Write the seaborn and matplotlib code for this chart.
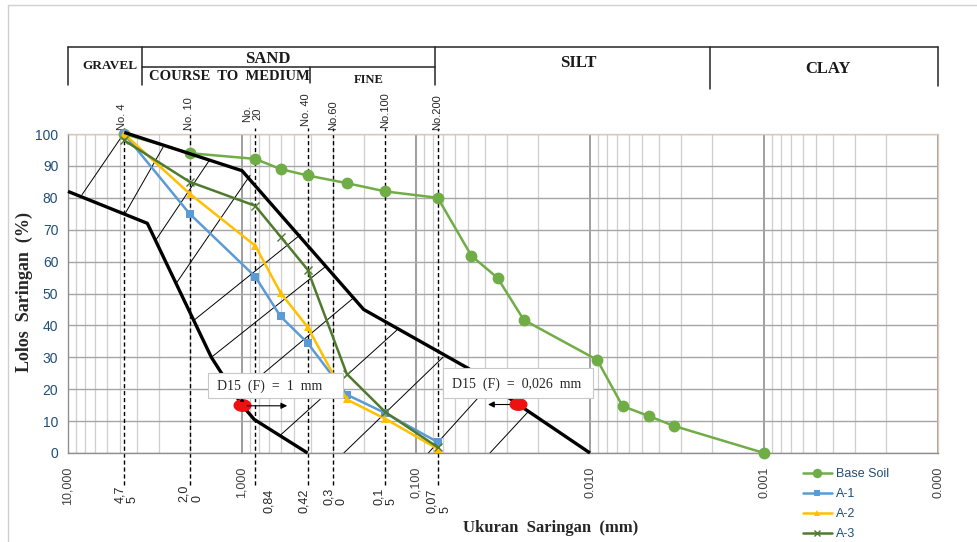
import matplotlib

matplotlib.use("Agg")

import matplotlib.pyplot as plt
import numpy as np
import pandas as pd
import seaborn as sns
from matplotlib.lines import Line2D
from matplotlib.patches import Rectangle
from matplotlib.path import Path
from matplotlib.ticker import FixedLocator, LogLocator, NullFormatter

W, H = 977, 542

# grain size curves (sieve size in mm, percent passing)
SIZES_BASE = [4.75, 2.0, 0.84, 0.6, 0.42, 0.25, 0.15, 0.075, 0.048, 0.034, 0.024, 0.0091, 0.0065, 0.0046, 0.0033, 0.001]
PASS_BASE = [100, 94, 92.2, 89, 87, 84.6, 82, 80, 61.8, 54.9, 41.7, 29.2, 14.7, 11.6, 8.5, 0]
SIZES_A = [4.75, 2.0, 0.84, 0.6, 0.42, 0.25, 0.15, 0.075]
PASS_A1 = [100, 75, 55.3, 42.8, 34.5, 18.3, 12.5, 3.4]
PASS_A2 = [100, 81.3, 65, 50.2, 39.5, 16.8, 10.7, 1.3]
PASS_A3 = [98, 85, 77.5, 67.8, 57.5, 24.8, 12.8, 1.8]

# filter envelope
LEFT_SIZES = [10, 3.5, 1.5, 1.0, 0.85, 0.42]
LEFT_PASS = [82, 72, 30, 15, 10.5, 0]
RIGHT_SIZES = [4.75, 1.0, 0.2, 0.05, 0.026, 0.01]
RIGHT_PASS = [100.5, 88.5, 45, 26.5, 15.3, 0]

# hatch lines inside envelope
HATCH_START_SIZE = [8.3, 4.7, 3.15, 2.4, 1.9, 1.5, 1.07, 0.61, 0.26, 0.085, 0.0376]
HATCH_START_PASS = [81, 75, 66.5, 53, 41.5, 30, 18, 5.3, 0, 0, 0]
HATCH_END_SIZE = [4.8, 2.8, 1.53, 0.9, 0.46, 0.33, 0.23, 0.129, 0.070, 0.0386, 0.0227]
HATCH_END_PASS = [100, 96.5, 92, 87, 68.5, 58.5, 48.5, 38.5, 30, 20.7, 12.9]

D15_SIZES = [1.0, 0.026]
D15_PASS = [15, 15.3]
D15_TEXT = ["D15  (F)  =  1  mm", "D15  (F)  =  0,026  mm"]

SIEVE_SIZES = [4.75, 2.0, 0.84, 0.42, 0.30, 0.15, 0.075]
SIEVE_NAMES = ["No. 4", "No. 10", "No.\n20", "No. 40", "No.60", "No.100", "No.200"]
SIEVE_TEXT = ["4,7\n5", "2,0\n0", "0,84", "0,42", "0,3\n0", "0,1\n5", "0,07\n5"]

DECADES = [10, 1, 0.1, 0.01, 0.001, 0.0001]
DECADE_TEXT = ["10,000", "1,000", "0,100", "0.010", "0.001", "0.000"]

GREEN = "#70AD47"
BLUE = "#5B9BD5"
GOLD = "#FFC000"
DKGREEN = "#4F7A2E"
TICKBLUE = "#1F4E79"
SERIF = "Liberation Serif"
SANS = "Liberation Sans"


def fx(px):
    return px / W


def fy(py):
    return 1 - py / H


def fig_line(fig, xs, ys, **kw):
    fig.add_artist(Line2D([fx(x) for x in xs], [fy(y) for y in ys], transform=fig.transFigure, **kw))


sns.set_theme(style="white")
plt.rcParams["font.family"] = SANS

fig = plt.figure(figsize=(W / 100, H / 100), dpi=100)
ax = fig.add_axes([fx(68), fy(453), (938 - 68) / W, (453 - 134) / H])
ax.set_xscale("log")
ax.set_xlim(10, 0.0001)
ax.set_ylim(0, 100)

# grid
ax.xaxis.set_major_locator(FixedLocator(DECADES))
ax.xaxis.set_minor_locator(LogLocator(base=10, subs=np.arange(2, 10)))
ax.xaxis.set_minor_formatter(NullFormatter())
ax.set_yticks(np.arange(0, 101, 10))
ax.grid(which="major", axis="y", color="#A6A6A6", lw=1.0)
ax.grid(which="major", axis="x", color="#8F8F8F", lw=1.2)
ax.grid(which="minor", axis="x", color="#CFCFCF", lw=0.9)
ax.set_axisbelow(True)
ax.set_xticklabels(DECADE_TEXT, rotation=90, fontsize=9, color="#404040")
ax.tick_params(axis="x", which="major", length=4, color="#8F8F8F", pad=6, direction="out")
ax.tick_params(axis="x", which="minor", length=0)
ax.tick_params(axis="y", length=0, pad=7, labelsize=10, labelcolor=TICKBLUE)
for side, col in [("left", "#8F8F8F"), ("bottom", "#8F8F8F"), ("top", "#DCC8BA"), ("right", "#DCC8BA")]:
    ax.spines[side].set_color(col)
    ax.spines[side].set_linewidth(1.0)

# hatch lines
for s0, p0, s1, p1 in zip(HATCH_START_SIZE, HATCH_START_PASS, HATCH_END_SIZE, HATCH_END_PASS):
    ax.plot([s0, s1], [p0, p1], color="black", lw=0.7, zorder=2)

# sieve dashed lines and labels
xt = ax.get_xaxis_transform()
top_dx = [-2, -1, -3, -2, 0, 0, -1]
top_dy = [4, 4, 12, 8, 4, 6, 4]
bot_dx = [2, 1, 14, -4, 2, 0, 1]
bot_dy = [-50, -49, -60, -60, -52, -52, -60]
for i, s in enumerate(SIEVE_SIZES):
    ax.plot([s, s], [-0.10, 1.02], transform=xt, color="black", lw=1.0, ls=(0, (3, 2)), clip_on=False, zorder=2.5)
    ax.annotate(SIEVE_NAMES[i], xy=(s, 1), xycoords=xt, xytext=(top_dx[i], top_dy[i]), textcoords="offset pixels",
                rotation=90, ha="center", va="bottom", fontsize=8, multialignment="center", linespacing=1.0)
    ax.annotate(SIEVE_TEXT[i], xy=(s, 0), xycoords=xt, xytext=(bot_dx[i], bot_dy[i]), textcoords="offset pixels",
                rotation=90, ha="center", va="bottom", fontsize=9, multialignment="left", linespacing=1.1)

# grain size curves
series = [
    ("Base Soil", SIZES_BASE, PASS_BASE, GREEN, "o", 8.5),
    ("A-1", SIZES_A, PASS_A1, BLUE, "s", 5.5),
    ("A-2", SIZES_A, PASS_A2, GOLD, "^", 6),
    ("A-3", SIZES_A, PASS_A3, DKGREEN, "x", 6),
]
handles = []
for name, xs, ys, col, mk, ms in series:
    df = pd.DataFrame({"size": xs, "pct": ys})
    sns.lineplot(data=df, x="size", y="pct", ax=ax, color=col, lw=1.8, sort=False, estimator=None,
                 marker=mk, markersize=ms, markeredgewidth=(1.0 if mk == "x" else 0),
                 markeredgecolor=col, legend=False, zorder=3, clip_on=False)
    handles.append(Line2D([], [], color=col, lw=1.8, marker=mk, markersize=ms * 0.8,
                          markeredgewidth=(1.0 if mk == "x" else 0), markeredgecolor=col, label=name))
ax.set_xlabel("")
ax.set_ylabel("")

# envelope
ax.plot(LEFT_SIZES, LEFT_PASS, color="black", lw=2.4, zorder=4, clip_on=False, solid_capstyle="butt")
ax.plot(RIGHT_SIZES, RIGHT_PASS, color="black", lw=2.4, zorder=4, clip_on=False, solid_capstyle="butt")

# D15 markers and callouts
theta = np.linspace(0, 2 * np.pi, 40)
ellipse = Path(np.column_stack([1.45 * np.cos(theta), np.sin(theta)]), closed=True)
ax.plot(D15_SIZES, D15_PASS, ls="none", marker=ellipse, markersize=12, color="#EE1111", zorder=6)
ax.annotate("", xy=(0.53, 14.8), xytext=(0.97, 14.8),
            arrowprops=dict(arrowstyle="-|>", color="black", lw=0.8, mutation_scale=9), zorder=6)
ax.annotate("", xy=(0.040, 15.2), xytext=(0.028, 15.2),
            arrowprops=dict(arrowstyle="-|>", color="black", lw=0.8, mutation_scale=9), zorder=6)
ax.annotate("", xy=(1.0, 17.5), xytext=(1.0, 16.0),
            arrowprops=dict(arrowstyle="-|>", color="black", lw=0.6, mutation_scale=6), zorder=6)

for (x0, y0, x1, y1), txt in zip([(208, 373, 343, 398), (443, 368, 593, 398)], D15_TEXT):
    fig.add_artist(Rectangle((fx(x0), fy(y1)), fx(x1) - fx(x0), fy(y0) - fy(y1), transform=fig.transFigure,
                             facecolor="white", edgecolor="#C8C8C8", lw=0.8, zorder=5))
    t = fig.text(fx(x0 + 9), fy((y0 + y1) / 2 + 1), txt, ha="left", va="center", fontsize=10, family=SERIF)
    t.set_zorder(6)

# header table
hk = dict(color="#262626", lw=1.1)
fig_line(fig, [68, 938], [47, 47], **hk)
for xv, yb in [(68, 85), (142, 85), (435, 85), (710, 89), (938, 86)]:
    fig_line(fig, [xv, xv], [47, yb], **hk)
fig_line(fig, [142, 435], [67, 67], **hk)
fig_line(fig, [310, 310], [67, 83], **hk)
hdr = [("GRAVEL", 110, 66, 9.5), ("SAND", 268, 59, 12), ("COURSE  TO  MEDIUM", 229, 77, 10.5),
       ("FINE", 369, 80, 9), ("SILT", 578, 63, 12), ("CLAY", 828, 69, 12)]
for txt, x, y, fs in hdr:
    fig.text(fx(x), fy(y), txt, ha="center", va="center", fontsize=fs, fontweight="bold", family=SERIF, color="#1A1A1A")

# chart border
fig_line(fig, [8, 8], [5, 542], color="#D0D0D0", lw=1.0)
fig_line(fig, [8, 977], [5, 5], color="#D0D0D0", lw=1.0)

# axis titles
fig.text(fx(24), fy(292), "Lolos  Saringan  (%)", rotation=90, ha="center", va="center",
         fontsize=13, fontweight="bold", family=SERIF)
fig.text(fx(551), fy(528), "Ukuran  Saringan  (mm)", ha="center", va="center",
         fontsize=12, fontweight="bold", family=SERIF)

fig.legend(handles=handles, loc="upper left", bbox_to_anchor=(fx(803), fy(468)), frameon=False,
           fontsize=9, labelcolor=TICKBLUE, handlelength=2.3, handletextpad=0.3, labelspacing=0.65,
           borderaxespad=0, borderpad=0)

fig.savefig("out.png", dpi=100, facecolor="white")
